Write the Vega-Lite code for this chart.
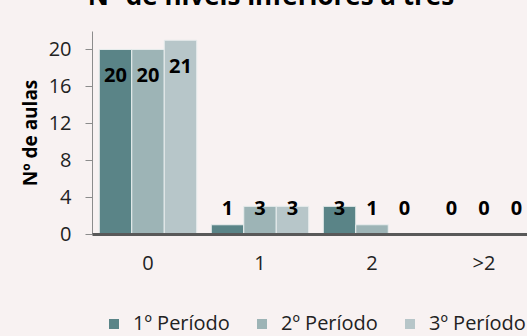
{
  "$schema": "https://vega.github.io/schema/vega-lite/v6.json",
  "width": 448,
  "height": 203,
  "autosize": {"type": "none"},
  "padding": {"left": 92, "top": 31, "right": 0, "bottom": 102},
  "background": "#f8f2f2",
  "config": {
    "font": "Open Sans",
    "view": {"stroke": null},
    "axis": {"labelFont": "Open Sans", "titleFont": "Open Sans"},
    "legend": {"labelFont": "Open Sans"}
  },
  "title": {
    "text": "Nº de níveis inferiores a três",
    "fontSize": 26,
    "fontWeight": "bold",
    "font": "Open Sans",
    "color": "#000000",
    "anchor": "middle",
    "dx": -45,
    "dy": 14,
    "offset": 14,
    "baseline": "alphabetic"
  },
  "data": {
    "values": [
      {"cat": "0", "periodo": "1º Período", "value": 20},
      {"cat": "0", "periodo": "2º Período", "value": 20},
      {"cat": "0", "periodo": "3º Período", "value": 21},
      {"cat": "1", "periodo": "1º Período", "value": 1},
      {"cat": "1", "periodo": "2º Período", "value": 3},
      {"cat": "1", "periodo": "3º Período", "value": 3},
      {"cat": "2", "periodo": "1º Período", "value": 3},
      {"cat": "2", "periodo": "2º Período", "value": 1},
      {"cat": "2", "periodo": "3º Período", "value": 0},
      {"cat": ">2", "periodo": "1º Período", "value": 0},
      {"cat": ">2", "periodo": "2º Período", "value": 0},
      {"cat": ">2", "periodo": "3º Período", "value": 0}
    ]
  },
  "encoding": {
    "x": {
      "field": "cat",
      "type": "nominal",
      "sort": ["0", "1", "2", ">2"],
      "scale": {"paddingInner": 0.13, "paddingOuter": 0.065},
      "axis": {
        "title": null,
        "labelAngle": 0,
        "ticks": false,
        "domainColor": "#595959",
        "domainWidth": 3,
        "labelFontSize": 20,
        "labelColor": "#222222",
        "labelPadding": 19,
        "zindex": 1
      }
    },
    "xOffset": {"field": "periodo", "type": "nominal", "sort": ["1º Período", "2º Período", "3º Período"], "scale": {"paddingInner": 0, "paddingOuter": 0}}
  },
  "layer": [
    {
      "mark": {"type": "bar", "stroke": "#e9eeee", "strokeWidth": 1},
      "encoding": {
        "y": {
          "field": "value",
          "type": "quantitative",
          "scale": {"domain": [0, 22], "nice": false},
          "axis": {
            "values": [0, 4, 8, 12, 16, 20],
            "grid": false,
            "domainColor": "#8c8c8c",
            "tickColor": "#8c8c8c",
            "tickSize": 7,
            "labelFontSize": 20,
            "labelColor": "#222222",
            "labelPadding": 14,
            "title": "Nº de aulas",
            "titleFontSize": 19,
            "titleFontWeight": "bold",
            "titleColor": "#000000",
            "titlePadding": 8
          }
        },
        "color": {
          "field": "periodo",
          "type": "nominal",
          "sort": ["1º Período", "2º Período", "3º Período"],
          "scale": {"range": ["#5a8487", "#9db4b6", "#b7c6c9"]},
          "legend": {
            "title": null,
            "orient": "none",
            "direction": "horizontal",
            "legendX": 12,
            "legendY": 283,
            "padding": 0,
            "symbolType": "square",
            "symbolSize": 100,
            "symbolStrokeWidth": 0,
            "labelFontSize": 20,
            "labelColor": "#222222",
            "labelOffset": 9,
            "columnPadding": 22
          }
        }
      }
    },
    {
      "transform": [{"filter": "datum.value >= 10"}],
      "mark": {"type": "text", "fontWeight": "bold", "fontSize": 20, "dy": 27, "baseline": "middle", "color": "#000000"},
      "encoding": {
        "y": {"field": "value", "type": "quantitative"},
        "text": {"field": "value", "type": "quantitative"}
      }
    },
    {
      "transform": [{"filter": "datum.value < 10"}],
      "mark": {"type": "text", "fontWeight": "bold", "fontSize": 20, "baseline": "middle", "color": "#000000"},
      "encoding": {
        "y": {"datum": 2.7},
        "text": {"field": "value", "type": "quantitative"}
      }
    }
  ]
}
